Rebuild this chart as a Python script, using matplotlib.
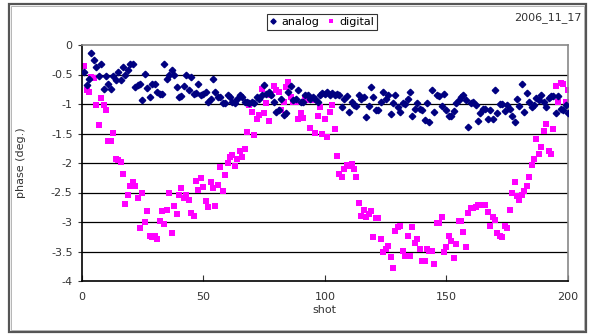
import numpy as np
import matplotlib
matplotlib.use("Agg")
import matplotlib.pyplot as plt
from matplotlib.patches import Rectangle

# phase values, shot 1..200
analog = [
    -0.46, -0.68, -0.58, -0.14, -0.26, -0.37, -0.53, -0.32, -0.74, -0.53,
    -0.66, -0.74, -0.53, -0.60, -0.46, -0.59, -0.38, -0.50, -0.43, -0.33,
    -0.32, -0.71, -0.67, -0.66, -0.93, -0.49, -0.73, -0.88, -0.66, -0.66,
    -0.79, -0.83,
    -0.83, -0.32, -0.57, -0.51, -0.43, -0.51, -0.72, -0.88, -0.86, -0.70,
    -0.50, -0.77, -0.55, -0.83, -0.81, -0.66, -0.85, -0.83, -0.80, -0.97,
    -0.91, -0.57, -0.80, -0.88, -0.88, -0.98, -0.99, -0.85, -0.88, -0.97,
    -0.98, -0.91, -0.85, -0.88,
    -0.97, -0.97, -0.98, -0.97, -0.99, -0.88, -0.92, -0.84, -0.68, -0.83,
    -0.79, -0.85, -0.96, -1.14, -1.11, -0.91, -1.19, -1.16, -0.80, -0.70,
    -0.94, -0.91, -0.76, -0.97, -0.97, -0.85, -0.84, -0.92, -0.88, -0.91,
    -0.97, -0.85, -0.81,
    -0.83, -0.80, -0.85, -0.81, -0.84, -0.83, -0.85, -1.05, -0.92, -0.86,
    -1.14, -0.97, -1.01, -1.03, -0.84, -0.91, -0.88, -1.22, -1.03, -0.71,
    -0.88, -1.11, -1.11, -0.97, -0.80, -0.92, -0.84, -1.17, -0.98, -0.85,
    -1.05, -1.14, -0.99, -1.00,
    -0.91, -0.80, -1.20, -1.08, -0.99, -1.08, -1.10, -1.27, -0.99, -1.31,
    -0.77, -1.14, -0.85, -0.86, -1.03, -0.83, -1.10, -1.20, -1.20, -1.12,
    -0.99, -0.94, -0.88, -0.85, -0.94, -1.39, -0.99, -0.97, -1.01, -1.28,
    -1.16, -1.08, -1.08, -1.26,
    -1.11, -1.26, -0.77, -1.16, -1.00, -1.00, -1.12, -1.02, -1.08, -1.20,
    -1.31, -0.91, -1.04, -0.66, -1.14, -0.81, -0.96, -1.05, -1.02, -0.90,
    -0.94, -0.85, -0.97, -1.05, -0.90, -0.86, -0.87, -1.16, -0.86, -1.08,
    -1.10, -1.02, -1.16,
]

digital = [
    -0.36, -0.77, -0.80, -0.54, -0.56, -1.01, -1.36, -0.90, -1.01, -1.11,
    -1.63, -1.62, -1.49, -1.94, -1.95, -1.98, -2.18, -2.70, -2.55, -2.39,
    -2.32, -2.39, -2.59, -3.10, -2.50, -3.00, -2.81, -3.23, -3.25, -3.23,
    -3.29, -2.98, -2.82,
    -3.03, -2.79, -2.50, -3.18, -2.73, -2.87, -2.54, -2.42, -2.59, -2.55,
    -2.63, -2.84, -2.90, -2.31, -2.46, -2.25, -2.41, -2.64, -2.74, -2.32,
    -2.42, -2.73, -2.38, -2.07, -2.48, -2.21, -2.00, -1.90, -1.86, -2.05,
    -1.94, -1.79, -1.89, -1.76, -1.48,
    -1.02, -1.14, -1.53, -1.26, -1.18, -0.74, -1.15, -0.98, -1.29, -0.84,
    -0.70, -0.77, -0.79, -1.11, -0.97, -0.71, -0.62, -0.88, -0.97, -0.97,
    -1.25, -1.15, -1.24, -0.91, -0.94, -1.41, -0.94, -1.49, -1.20, -1.05,
    -1.51, -1.25, -1.56,
    -1.13, -1.01, -1.43, -1.88, -2.19, -2.24, -2.11, -2.03, -2.05, -2.01,
    -2.11, -2.23, -2.68, -2.89, -2.79, -2.92, -2.87, -2.82, -3.26, -2.93,
    -2.94, -3.29, -3.50, -3.46, -3.41, -3.60, -3.78, -3.15, -3.09, -3.06,
    -3.49, -3.58, -3.24,
    -3.57, -3.08, -3.36, -3.29, -3.46, -3.66, -3.66, -3.46, -3.49, -3.49,
    -3.71, -3.02, -3.02, -2.92, -3.50, -3.43, -3.23, -3.33, -3.61, -3.37,
    -2.98, -2.99, -3.17, -3.42, -2.85, -2.76, -2.76, -2.74, -2.71, -2.71,
    -2.72, -2.71, -2.83, -3.07,
    -2.92, -2.97, -3.18, -3.23, -3.26, -3.07, -3.10, -2.79, -2.50, -2.32,
    -2.56, -2.62, -2.55, -2.47, -2.39, -2.23, -2.03, -1.93, -1.60, -1.84,
    -1.73, -1.45, -1.34, -1.79, -1.85, -1.43, -0.70, -0.96, -0.64, -0.66,
    -0.96, -0.77,
]

shots_a = np.arange(1, len(analog) + 1)
shots_d = np.arange(1, len(digital) + 1)

y_ticks = [0, -0.5, -1, -1.5, -2, -2.5, -3, -3.5, -4]
y_ticklabels = ["0", "-0.5", "-1", "-1.5", "-2", "-2.5", "-3", "-3.5", "-4"]
x_ticks = [0, 50, 100, 150, 200]

plt.rcParams["font.family"] = ["DejaVu Sans"]

fig = plt.figure(figsize=(5.91, 3.36), dpi=100)
ax = fig.add_axes([81.7 / 591, 1 - 281 / 336, (568 - 81.7) / 591, (281 - 45) / 336])

# outer chart frame
fig.add_artist(Rectangle((9 / 591, 4 / 336), 577 / 591, 328 / 336, transform=fig.transFigure,
                         fill=False, edgecolor="#555555", linewidth=1.6))
fig.add_artist(Rectangle((11 / 591, 6 / 336), 573 / 591, 324 / 336, transform=fig.transFigure,
                         fill=False, edgecolor="#aaaaaa", linewidth=0.6))

for y in y_ticks[1:-1]:
    ax.axhline(y, color="black", linewidth=0.9, zorder=1)

ax.plot(shots_a, analog, linestyle="none", marker="D", markersize=3.3,
        color="#000080", label="analog", zorder=3)
ax.plot(shots_d, digital, linestyle="none", marker="s", markersize=4.0,
        color="#ff00ff", markeredgewidth=0, label="digital", zorder=2)

ax.set_xlim(0, 200)
ax.set_ylim(-4, 0)
ax.set_xticks(x_ticks)
ax.set_yticks(y_ticks)
ax.set_yticklabels(y_ticklabels)
ax.tick_params(axis="x", direction="in", length=4, labelsize=8, colors="#333333", pad=8)
ax.tick_params(axis="y", direction="out", length=3, labelsize=8, colors="#333333")
for side in ["top", "right"]:
    ax.spines[side].set_color("#888888")
    ax.spines[side].set_linewidth(1.2)
for side in ["left", "bottom"]:
    ax.spines[side].set_color("black")
    ax.spines[side].set_linewidth(1.2)

ax.set_xlabel("shot", fontsize=8, color="#333333", labelpad=2)
ax.set_ylabel("phase (deg.)", fontsize=8, color="#333333", labelpad=18)

leg = fig.legend(loc="center", bbox_to_anchor=(322 / 591, 1 - 22 / 336), ncol=2,
                 fontsize=8, frameon=True, fancybox=False, handlelength=0.6,
                 handletextpad=0.4, columnspacing=0.8, borderpad=0.3,
                 markerscale=0.8)
leg.get_frame().set_edgecolor("black")
leg.get_frame().set_linewidth(0.8)

fig.text(582 / 591, 1 - 18 / 336, "2006_11_17", ha="right", va="center",
         fontsize=8, color="#333333")

fig.savefig("out.png", dpi=100)
